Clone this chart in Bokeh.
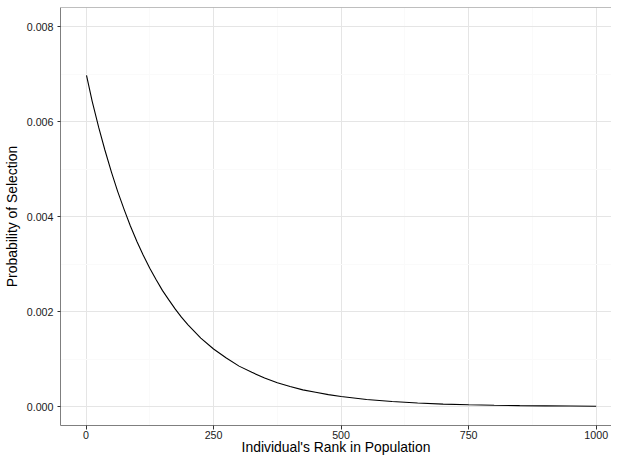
from bokeh.plotting import figure
from bokeh.models import FixedTicker, PrintfTickFormatter, Span, Range1d
from bokeh.embed import file_html
from bokeh.resources import INLINE

# Data
rank = [1, 12, 25, 37, 50, 62, 75, 87, 100, 112, 125, 137, 150, 162, 175, 187,
        200, 225, 250, 275, 300, 325, 350, 375, 400, 425, 450, 475, 500, 550,
        600, 650, 700, 750, 800, 850, 900, 950, 1000]
prob = [0.00697, 0.00643, 0.00587, 0.00540, 0.00493, 0.00453, 0.00414, 0.00380,
        0.00347, 0.00319, 0.00291, 0.00268, 0.00244, 0.00225, 0.00205, 0.00188,
        0.00172, 0.00144, 0.00121, 0.00102, 0.00085, 0.00072, 0.00060, 0.00050,
        0.00042, 0.00035, 0.00030, 0.00025, 0.00021, 0.000147, 0.000104,
        0.000073, 0.000051, 0.000036, 0.000025, 0.000018, 0.000013, 0.000009,
        0.000006]

x_ticks = [0, 250, 500, 750, 1000]
x_minor = [125, 375, 625, 875]
y_ticks = [0.0, 0.002, 0.004, 0.006, 0.008]
y_minor = [0.001, 0.003, 0.005, 0.007]
x_title = "Individual's Rank in Population"
y_title = "Probability of Selection"

p = figure(width=611, height=457, output_backend="svg", toolbar_location=None,
           x_range=Range1d(-50, 1030), y_range=Range1d(-0.0004, 0.0084),
           min_border_left=58, min_border_right=0, min_border_top=7,
           min_border_bottom=30)
p.outline_line_color = None
p.background_fill_color = "white"
p.border_fill_color = "white"

p.line(rank, prob, line_color="black", line_width=1.1)

for ax, ticks, minor in ((p.xaxis[0], x_ticks, x_minor), (p.yaxis[0], y_ticks, y_minor)):
    ax.ticker = FixedTicker(ticks=ticks, minor_ticks=minor)
    ax.axis_line_color = "#7F7F7F"
    ax.major_tick_line_color = "#333333"
    ax.major_tick_in = 0
    ax.minor_tick_line_color = None
    ax.major_label_text_font = "Liberation Sans"
    ax.major_label_text_font_size = "10.7px"
    ax.major_label_text_color = "#1A1A1A"
    ax.axis_label_text_font = "Liberation Sans"
    ax.axis_label_text_font_size = "13.9px"
    ax.axis_label_text_font_style = "normal"
    ax.axis_label_text_color = "black"

p.xaxis[0].major_tick_out = 4
p.xaxis[0].major_label_standoff = 1
p.xaxis[0].axis_label_standoff = -3
p.xaxis[0].axis_label = x_title
p.yaxis[0].major_tick_out = 3
p.yaxis[0].major_label_standoff = 3
p.yaxis[0].axis_label_standoff = 4
p.yaxis[0].formatter = PrintfTickFormatter(format="%.3f")
p.yaxis[0].axis_label = y_title

for g in (p.xgrid[0], p.ygrid[0]):
    g.grid_line_color = "#E5E5E5"
    g.grid_line_width = 1
    g.minor_grid_line_color = "#FAFAFA"
    g.minor_grid_line_width = 1
p.xgrid[0].ticker = FixedTicker(ticks=x_ticks, minor_ticks=x_minor)
p.ygrid[0].ticker = FixedTicker(ticks=y_ticks, minor_ticks=y_minor)

p.add_layout(Span(location=0.0084, dimension="width", line_color="#7F7F7F", line_width=1))

open("out.html", "w").write(file_html(p, INLINE))
